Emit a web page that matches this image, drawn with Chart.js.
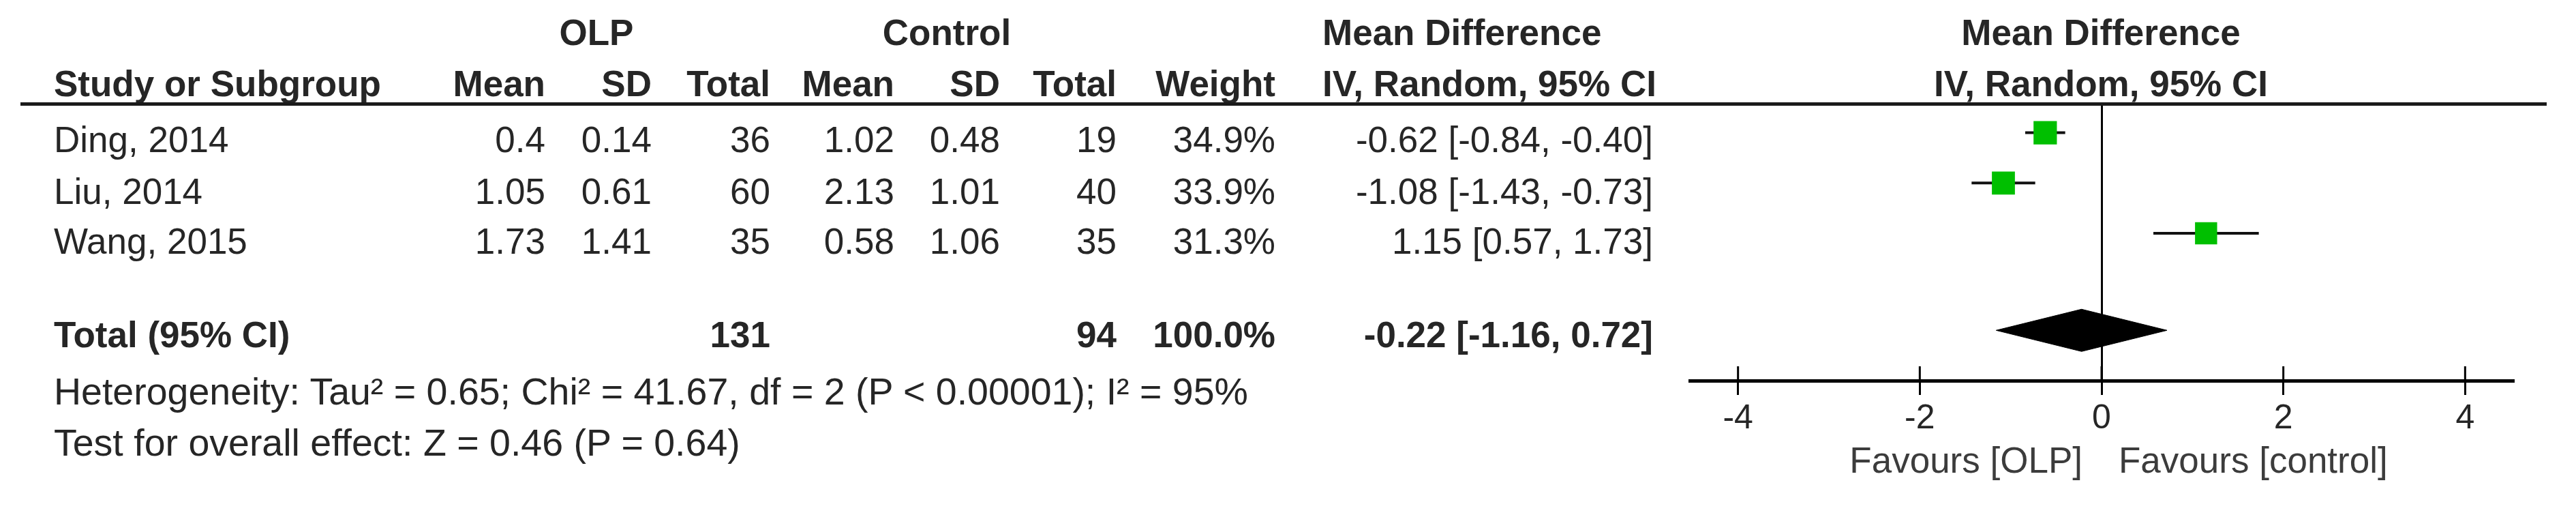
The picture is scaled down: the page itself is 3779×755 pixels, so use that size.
<!DOCTYPE html>
<html>
<head>
<meta charset="utf-8">
<script src="https://cdn.jsdelivr.net/npm/chart.js@4.4.1/dist/chart.umd.min.js"></script>
<style>
  html, body { margin: 0; padding: 0; background: #fff; }
  #wrap { position: relative; width: 3779px; height: 755px; overflow: hidden; }
  #forest { position: absolute; left: 0; top: 0; }
  .t {
    position: absolute;
    white-space: nowrap;
    font-family: "Liberation Sans", Arial, sans-serif;
    color: #262626;
  }
  .rule { position: absolute; background: #1a1a1a; }
</style>
</head>
<body>
<div id="wrap">
  <canvas id="forest" width="3779" height="755"></canvas>
</div>
<script>
// Study data
const studies = ['Ding, 2014', 'Liu, 2014', 'Wang, 2015'];
const olpMean = [0.4, 1.05, 1.73];
const olpSD = [0.14, 0.61, 1.41];
const olpTotal = [36, 60, 35];
const ctrlMean = [1.02, 2.13, 0.58];
const ctrlSD = [0.48, 1.01, 1.06];
const ctrlTotal = [19, 40, 35];
const weights = [34.9, 33.9, 31.3];
const meanDiff = [-0.62, -1.08, 1.15];
const ciLow = [-0.84, -1.43, 0.57];
const ciHigh = [-0.40, -0.73, 1.73];

// Pooled result
const totalOlp = 131;
const totalCtrl = 94;
const totalWeight = 100.0;
const totalMd = -0.22;
const totalLow = -1.16;
const totalHigh = 0.72;

const xTicks = [-4, -2, 0, 2, 4];
const heterogeneityText = 'Heterogeneity: Tau\u00b2 = 0.65; Chi\u00b2 = 41.67, df = 2 (P < 0.00001); I\u00b2 = 95%';
const overallText = 'Test for overall effect: Z = 0.46 (P = 0.64)';
const favourLeft = 'Favours [OLP]';
const favourRight = 'Favours [control]';

// Layout
const W = 3779;
const FONT = 53;
const studyRows = [1, 2, 3];
const totalRow = 4.93;
const textRowsY = [204, 280, 353];

const wrap = document.getElementById('wrap');

function place(text, x, yc, align, opts = {}) {
  const size = opts.size || FONT;
  const el = document.createElement('div');
  el.className = 't';
  el.textContent = text;
  el.style.fontSize = size + 'px';
  el.style.lineHeight = size + 'px';
  el.style.top = (yc - 0.4885 * size) + 'px';
  if (opts.bold) el.style.fontWeight = 'bold';
  if (opts.color) el.style.color = opts.color;
  if (align === 'right') {
    el.style.right = (W - x) + 'px';
  } else if (align === 'center') {
    el.style.left = x + 'px';
    el.style.transform = 'translateX(-50%)';
  } else {
    el.style.left = x + 'px';
  }
  wrap.appendChild(el);
}

const ci = (m, l, h) => `${m.toFixed(2)} [${l.toFixed(2)}, ${h.toFixed(2)}]`;

// column anchors
const colName = 79;
const cols = [800, 956, 1130, 1312, 1467, 1638, 1871, 2425];

// headers
place('OLP', 875, 47, 'center', { bold: true });
place('Control', 1389, 47, 'center', { bold: true });
place('Mean Difference', 1940, 47, 'left', { bold: true });
place('Mean Difference', 3082, 47, 'center', { bold: true });
place('Study or Subgroup', colName, 122, 'left', { bold: true });
['Mean', 'SD', 'Total', 'Mean', 'SD', 'Total', 'Weight'].forEach((h, i) => {
  place(h, cols[i], 122, 'right', { bold: true });
});
place('IV, Random, 95% CI', 1940, 122, 'left', { bold: true });
place('IV, Random, 95% CI', 3082, 122, 'center', { bold: true });

const rule = document.createElement('div');
rule.className = 'rule';
Object.assign(rule.style, { left: '30px', top: '150px', width: '3706px', height: '5px' });
wrap.appendChild(rule);

// study rows
studies.forEach((s, i) => {
  const y = textRowsY[i];
  place(s, colName, y, 'left');
  const cells = [
    String(olpMean[i]), String(olpSD[i]), String(olpTotal[i]),
    String(ctrlMean[i]), String(ctrlSD[i]), String(ctrlTotal[i]),
    weights[i].toFixed(1) + '%',
    ci(meanDiff[i], ciLow[i], ciHigh[i]),
  ];
  cells.forEach((c, j) => place(c, cols[j], y, 'right'));
});

// total row
place('Total (95% CI)', colName, 490, 'left', { bold: true });
place(String(totalOlp), cols[2], 490, 'right', { bold: true });
place(String(totalCtrl), cols[5], 490, 'right', { bold: true });
place(totalWeight.toFixed(1) + '%', cols[6], 490, 'right', { bold: true });
place(ci(totalMd, totalLow, totalHigh), cols[7], 490, 'right', { bold: true });

place(heterogeneityText, colName, 574, 'left', { size: 55.5 });
place(overallText, colName, 649, 'left', { size: 55.5 });

place(favourLeft, 3055, 674, 'right', { color: '#3c3c3c' });
place(favourRight, 3108, 674, 'left', { color: '#3c3c3c' });

// tick marks in RevMan cross the axis, draw the upper half here
const tickCross = {
  id: 'tickCross',
  afterDraw(chart) {
    const sx = chart.scales.x;
    const ctx = chart.ctx;
    ctx.save();
    ctx.strokeStyle = '#000';
    ctx.lineWidth = 3;
    sx.ticks.forEach((t) => {
      const px = sx.getPixelForValue(t.value);
      ctx.beginPath();
      ctx.moveTo(px, sx.top - 21);
      ctx.lineTo(px, sx.top);
      ctx.stroke();
    });
    ctx.restore();
  },
};

const ciLines = studies.map((s, i) => ({
  label: s + ' CI',
  data: [{ x: ciLow[i], y: studyRows[i] }, { x: ciHigh[i], y: studyRows[i] }],
  showLine: true,
  borderColor: '#111',
  borderWidth: 4,
  pointRadius: 0,
  order: 2,
}));

const squares = {
  label: 'Mean difference',
  data: meanDiff.map((m, i) => ({ x: m, y: studyRows[i] })),
  pointStyle: 'rect',
  pointRadius: weights.map((w) => 4.1 * Math.sqrt(w)),
  backgroundColor: '#00bf00',
  borderColor: '#00bf00',
  borderWidth: 0,
  order: 1,
};

const diamondH = 0.42;
const diamond = {
  label: 'Total',
  data: [
    { x: totalLow, y: totalRow },
    { x: totalMd, y: totalRow - diamondH },
    { x: totalHigh, y: totalRow },
    { x: totalMd, y: totalRow + diamondH },
    { x: totalLow, y: totalRow },
  ],
  showLine: true,
  fill: 'shape',
  backgroundColor: '#000',
  borderColor: '#000',
  borderWidth: 1,
  pointRadius: 0,
  tension: 0,
  order: 0,
};

new Chart(document.getElementById('forest'), {
  type: 'scatter',
  data: { datasets: [...ciLines, squares, diamond] },
  options: {
    responsive: false,
    animation: false,
    devicePixelRatio: 1,
    layout: { padding: { left: 2479, right: 92, top: 154, bottom: 106 } },
    plugins: { legend: { display: false }, tooltip: { enabled: false } },
    scales: {
      x: {
        min: -4.53,
        max: 4.53,
        afterBuildTicks: (scale) => { scale.ticks = xTicks.map((v) => ({ value: v })); },
        border: { display: true, color: '#000', width: 5 },
        grid: {
          drawOnChartArea: true,
          color: (c) => (c.tick && c.tick.value === 0 ? '#000' : 'rgba(0,0,0,0)'),
          lineWidth: 3,
          drawTicks: true,
          tickLength: 21,
          tickColor: '#000',
          tickWidth: 3,
        },
        ticks: {
          color: '#262626',
          padding: 5,
          font: { family: '"Liberation Sans", Arial, sans-serif', size: 50 },
        },
      },
      y: {
        display: false,
        reverse: true,
        min: 0.45,
        max: 5.93,
      },
    },
  },
  plugins: [tickCross],
});
</script>
</body>
</html>
